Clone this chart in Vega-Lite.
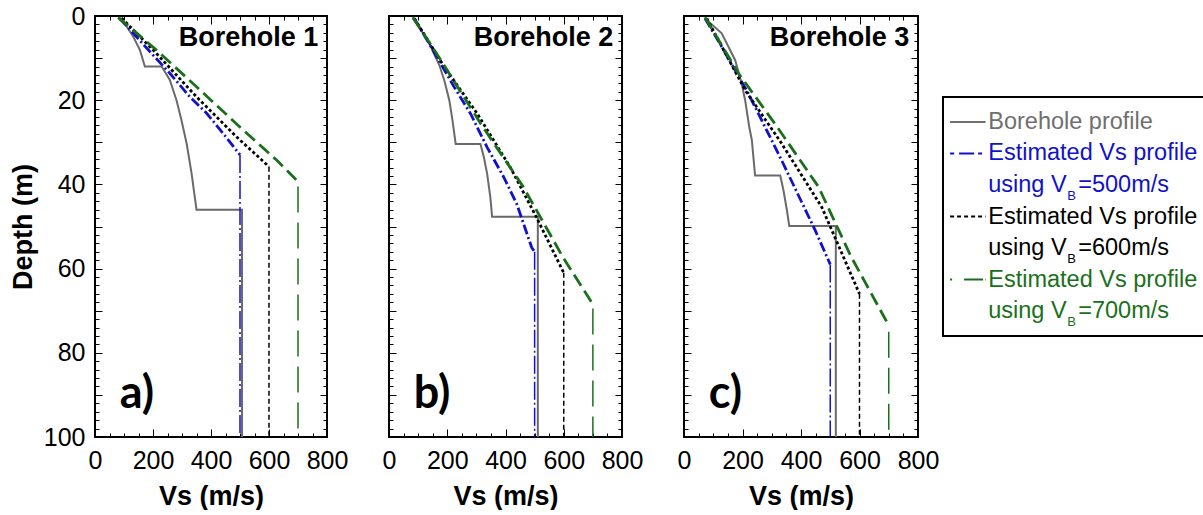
{
 "$schema": "https://vega.github.io/schema/vega-lite/v6.json",
 "padding": {"left": 8, "top": 3, "right": 0, "bottom": 0},
 "background": "white",
 "config": {
  "view": {"stroke": "#000000", "strokeWidth": 2},
  "axis": {"domain": false, "grid": false, "ticks": true, "tickColor": "#000000", "tickOpacity": 1, "tickWidth": 1, "labelFont": "Liberation Sans", "labelFontSize": 25, "labelColor": "#000000", "titleFont": "Liberation Sans", "titleFontSize": 27, "titleFontWeight": "bold", "titleColor": "#000000", "labelFlush": false, "labelOverlap": false},
  "text": {"font": "Liberation Sans"}
 },
 "datasets": {
  "profiles": [
   {"bh":1,"series":"Borehole profile","part":"main","vs":80,"depth":0.5},
   {"bh":1,"series":"Borehole profile","part":"main","vs":109,"depth":2.5},
   {"bh":1,"series":"Borehole profile","part":"main","vs":132,"depth":4.9},
   {"bh":1,"series":"Borehole profile","part":"main","vs":155,"depth":8.1},
   {"bh":1,"series":"Borehole profile","part":"main","vs":172,"depth":12},
   {"bh":1,"series":"Borehole profile","part":"main","vs":230,"depth":12},
   {"bh":1,"series":"Borehole profile","part":"main","vs":258,"depth":15.2},
   {"bh":1,"series":"Borehole profile","part":"main","vs":281,"depth":20},
   {"bh":1,"series":"Borehole profile","part":"main","vs":298,"depth":24.7},
   {"bh":1,"series":"Borehole profile","part":"main","vs":316,"depth":30.3},
   {"bh":1,"series":"Borehole profile","part":"main","vs":333,"depth":37.4},
   {"bh":1,"series":"Borehole profile","part":"main","vs":350,"depth":46},
   {"bh":1,"series":"Borehole profile","part":"main","vs":507,"depth":46},
   {"bh":1,"series":"Borehole profile","part":"main","vs":507,"depth":100},
   {"bh":1,"series":"VB=500","part":"gradient","vs":86,"depth":0.5},
   {"bh":1,"series":"VB=500","part":"gradient","vs":132,"depth":4.1},
   {"bh":1,"series":"VB=500","part":"gradient","vs":195,"depth":8.9},
   {"bh":1,"series":"VB=500","part":"gradient","vs":258,"depth":13.6},
   {"bh":1,"series":"VB=500","part":"gradient","vs":327,"depth":19.2},
   {"bh":1,"series":"VB=500","part":"gradient","vs":385,"depth":23.1},
   {"bh":1,"series":"VB=500","part":"gradient","vs":442,"depth":27.9},
   {"bh":1,"series":"VB=500","part":"gradient","vs":500,"depth":33},
   {"bh":1,"series":"VB=500","part":"base","vs":500,"depth":33},
   {"bh":1,"series":"VB=500","part":"base","vs":500,"depth":100},
   {"bh":1,"series":"VB=600","part":"gradient","vs":92,"depth":0.5},
   {"bh":1,"series":"VB=600","part":"gradient","vs":212,"depth":8.9},
   {"bh":1,"series":"VB=600","part":"gradient","vs":350,"depth":19.2},
   {"bh":1,"series":"VB=600","part":"gradient","vs":488,"depth":28.7},
   {"bh":1,"series":"VB=600","part":"gradient","vs":600,"depth":35.8},
   {"bh":1,"series":"VB=600","part":"base","vs":600,"depth":35.8},
   {"bh":1,"series":"VB=600","part":"base","vs":600,"depth":100},
   {"bh":1,"series":"VB=700","part":"gradient","vs":80,"depth":0.3},
   {"bh":1,"series":"VB=700","part":"gradient","vs":212,"depth":8.1},
   {"bh":1,"series":"VB=700","part":"gradient","vs":350,"depth":16.8},
   {"bh":1,"series":"VB=700","part":"gradient","vs":511,"depth":27.1},
   {"bh":1,"series":"VB=700","part":"gradient","vs":626,"depth":34.2},
   {"bh":1,"series":"VB=700","part":"gradient","vs":700,"depth":39.3},
   {"bh":1,"series":"VB=700","part":"base","vs":700,"depth":40.5},
   {"bh":1,"series":"VB=700","part":"base","vs":700,"depth":100},

   {"bh":2,"series":"Borehole profile","part":"main","vs":82,"depth":0.6},
   {"bh":2,"series":"Borehole profile","part":"main","vs":133,"depth":5.7},
   {"bh":2,"series":"Borehole profile","part":"main","vs":173,"depth":11.7},
   {"bh":2,"series":"Borehole profile","part":"main","vs":190,"depth":15.3},
   {"bh":2,"series":"Borehole profile","part":"main","vs":207,"depth":20},
   {"bh":2,"series":"Borehole profile","part":"main","vs":218,"depth":24.8},
   {"bh":2,"series":"Borehole profile","part":"main","vs":229,"depth":30.4},
   {"bh":2,"series":"Borehole profile","part":"main","vs":314,"depth":30.4},
   {"bh":2,"series":"Borehole profile","part":"main","vs":326,"depth":33.6},
   {"bh":2,"series":"Borehole profile","part":"main","vs":337,"depth":37.5},
   {"bh":2,"series":"Borehole profile","part":"main","vs":348,"depth":43.1},
   {"bh":2,"series":"Borehole profile","part":"main","vs":354,"depth":47.7},
   {"bh":2,"series":"Borehole profile","part":"main","vs":511,"depth":47.7},
   {"bh":2,"series":"Borehole profile","part":"main","vs":511,"depth":100},
   {"bh":2,"series":"VB=500","part":"gradient","vs":87,"depth":0.6},
   {"bh":2,"series":"VB=500","part":"gradient","vs":144,"depth":7.3},
   {"bh":2,"series":"VB=500","part":"gradient","vs":224,"depth":16.9},
   {"bh":2,"series":"VB=500","part":"gradient","vs":280,"depth":23.2},
   {"bh":2,"series":"VB=500","part":"gradient","vs":337,"depth":31.2},
   {"bh":2,"series":"VB=500","part":"gradient","vs":394,"depth":38.3},
   {"bh":2,"series":"VB=500","part":"gradient","vs":439,"depth":44.7},
   {"bh":2,"series":"VB=500","part":"gradient","vs":490,"depth":55},
   {"bh":2,"series":"VB=500","part":"gradient","vs":500,"depth":56},
   {"bh":2,"series":"VB=500","part":"base","vs":500,"depth":56},
   {"bh":2,"series":"VB=500","part":"base","vs":500,"depth":100},
   {"bh":2,"series":"VB=600","part":"gradient","vs":87,"depth":0.6},
   {"bh":2,"series":"VB=600","part":"gradient","vs":190,"depth":12.1},
   {"bh":2,"series":"VB=600","part":"gradient","vs":303,"depth":23.2},
   {"bh":2,"series":"VB=600","part":"gradient","vs":417,"depth":36},
   {"bh":2,"series":"VB=600","part":"gradient","vs":507,"depth":47.9},
   {"bh":2,"series":"VB=600","part":"gradient","vs":600,"depth":61},
   {"bh":2,"series":"VB=600","part":"base","vs":600,"depth":61},
   {"bh":2,"series":"VB=600","part":"base","vs":600,"depth":100},
   {"bh":2,"series":"VB=700","part":"gradient","vs":82,"depth":0.3},
   {"bh":2,"series":"VB=700","part":"gradient","vs":178,"depth":10.5},
   {"bh":2,"series":"VB=700","part":"gradient","vs":315,"depth":25.6},
   {"bh":2,"series":"VB=700","part":"gradient","vs":462,"depth":40.7},
   {"bh":2,"series":"VB=700","part":"gradient","vs":598,"depth":57.4},
   {"bh":2,"series":"VB=700","part":"gradient","vs":700,"depth":68.5},
   {"bh":2,"series":"VB=700","part":"base","vs":700,"depth":69.5},
   {"bh":2,"series":"VB=700","part":"base","vs":700,"depth":100},

   {"bh":3,"series":"Borehole profile","part":"main","vs":72,"depth":0.6},
   {"bh":3,"series":"Borehole profile","part":"main","vs":129,"depth":4.1},
   {"bh":3,"series":"Borehole profile","part":"main","vs":175,"depth":10.5},
   {"bh":3,"series":"Borehole profile","part":"main","vs":197,"depth":16},
   {"bh":3,"series":"Borehole profile","part":"main","vs":209,"depth":20},
   {"bh":3,"series":"Borehole profile","part":"main","vs":223,"depth":26.3},
   {"bh":3,"series":"Borehole profile","part":"main","vs":232,"depth":29.5},
   {"bh":3,"series":"Borehole profile","part":"main","vs":243,"depth":37.9},
   {"bh":3,"series":"Borehole profile","part":"main","vs":329,"depth":37.9},
   {"bh":3,"series":"Borehole profile","part":"main","vs":340,"depth":41.4},
   {"bh":3,"series":"Borehole profile","part":"main","vs":352,"depth":46.2},
   {"bh":3,"series":"Borehole profile","part":"main","vs":360,"depth":49.9},
   {"bh":3,"series":"Borehole profile","part":"main","vs":519,"depth":49.9},
   {"bh":3,"series":"Borehole profile","part":"main","vs":519,"depth":100},
   {"bh":3,"series":"VB=500","part":"gradient","vs":72,"depth":0.6},
   {"bh":3,"series":"VB=500","part":"gradient","vs":129,"depth":7.3},
   {"bh":3,"series":"VB=500","part":"gradient","vs":220,"depth":18.4},
   {"bh":3,"series":"VB=500","part":"gradient","vs":334,"depth":34.3},
   {"bh":3,"series":"VB=500","part":"gradient","vs":449,"depth":51},
   {"bh":3,"series":"VB=500","part":"gradient","vs":500,"depth":59},
   {"bh":3,"series":"VB=500","part":"base","vs":500,"depth":59},
   {"bh":3,"series":"VB=500","part":"base","vs":500,"depth":100},
   {"bh":3,"series":"VB=600","part":"gradient","vs":78,"depth":0.6},
   {"bh":3,"series":"VB=600","part":"gradient","vs":209,"depth":17.6},
   {"bh":3,"series":"VB=600","part":"gradient","vs":334,"depth":30.3},
   {"bh":3,"series":"VB=600","part":"gradient","vs":471,"depth":45.4},
   {"bh":3,"series":"VB=600","part":"gradient","vs":600,"depth":66},
   {"bh":3,"series":"VB=600","part":"base","vs":600,"depth":66},
   {"bh":3,"series":"VB=600","part":"base","vs":600,"depth":100},
   {"bh":3,"series":"VB=700","part":"gradient","vs":72,"depth":0.3},
   {"bh":3,"series":"VB=700","part":"gradient","vs":186,"depth":13.6},
   {"bh":3,"series":"VB=700","part":"gradient","vs":311,"depth":25.6},
   {"bh":3,"series":"VB=700","part":"gradient","vs":460,"depth":40.6},
   {"bh":3,"series":"VB=700","part":"gradient","vs":570,"depth":57},
   {"bh":3,"series":"VB=700","part":"gradient","vs":700,"depth":73.5},
   {"bh":3,"series":"VB=700","part":"base","vs":700,"depth":75},
   {"bh":3,"series":"VB=700","part":"base","vs":700,"depth":100}
  ],
  "panels": [
   {"bh":1,"name":"Borehole 1","tag":"a)"},
   {"bh":2,"name":"Borehole 2","tag":"b)"},
   {"bh":3,"name":"Borehole 3","tag":"c)"}
  ],
  "legendEntries": [
   {"key":"Borehole profile","line":1,"text":"Borehole profile"},
   {"key":"VB=500","line":2,"text":"Estimated Vs profile"},
   {"key":"VB=600","line":4,"text":"Estimated Vs profile"},
   {"key":"VB=700","line":6,"text":"Estimated Vs profile"}
  ],
  "legendSub": [
   {"key":"VB=500","line":3,"text":"using V","sub":"B","tail":"=500m/s"},
   {"key":"VB=600","line":5,"text":"using V","sub":"B","tail":"=600m/s"},
   {"key":"VB=700","line":7,"text":"using V","sub":"B","tail":"=700m/s"}
  ]
 },
 "hconcat": [
  {
   "hconcat": [
    {
     "width": 232, "height": 421,
     "layer": [
      {"data": {"name": "profiles"}, "transform": [{"filter": "datum.bh == 1 && datum.series == 'Borehole profile'"}],
       "mark": {"type": "line", "color": "#6a6a6a", "strokeWidth": 2},
       "encoding": {
        "x": {"field": "vs", "type": "quantitative", "scale": {"domain": [0, 800], "nice": false, "zero": false}, "axis": {"orient": "bottom", "values": [0,200,400,600,800], "ticks": false, "labelPadding": 11, "title": "Vs (m/s)", "titlePadding": 10}},
        "y": {"field": "depth", "type": "quantitative", "scale": {"domain": [0, 100], "nice": false, "reverse": true}, "axis": {"orient": "left", "values": [0,20,40,60,80,100], "ticks": false, "labelPadding": 10, "title": "Depth (m)", "titlePadding": 6}},
        "order": {"value": null}
       }},
      {"data": {"name": "profiles"}, "transform": [{"filter": "datum.bh == 1 && datum.part == 'gradient'"}],
       "mark": {"type": "line", "strokeWidth": 2.8},
       "encoding": {
        "x": {"field": "vs", "type": "quantitative", "axis": {"orient": "bottom", "values": [0,200,400,600,800], "labels": false, "tickSize": 8, "offset": -8, "title": null}},
        "y": {"field": "depth", "type": "quantitative", "axis": {"orient": "left", "values": [0,10,20,30,40,50,60,70,80,90,100], "labels": false, "tickSize": 7, "offset": -7, "title": null}},
        "color": {"field": "series", "type": "nominal", "scale": {"domain": ["Borehole profile","VB=500","VB=600","VB=700"], "range": ["#6a6a6a","#1111cc","#000000","#1a701a"]}, "legend": null},
        "strokeDash": {"field": "series", "type": "nominal", "scale": {"domain": ["VB=500","VB=600","VB=700"], "range": [[10,3,2,3],[3,2.5],[13,6]]}, "legend": null},
        "order": {"value": null}
       }},
      {"data": {"name": "profiles"}, "transform": [{"filter": "datum.bh == 1 && datum.part == 'base'"}],
       "mark": {"type": "line", "strokeWidth": 1.5},
       "encoding": {
        "x": {"field": "vs", "type": "quantitative", "axis": {"orient": "bottom", "values": [0,50,100,150,200,250,300,350,400,450,500,550,600,650,700,750,800], "labels": false, "tickSize": 4, "offset": -4, "title": null}},
        "y": {"field": "depth", "type": "quantitative", "axis": {"orient": "left", "values": [0,2,4,6,8,10,12,14,16,18,20,22,24,26,28,30,32,34,36,38,40,42,44,46,48,50,52,54,56,58,60,62,64,66,68,70,72,74,76,78,80,82,84,86,88,90,92,94,96,98,100], "labels": false, "tickSize": 4, "offset": -4, "title": null}},
        "color": {"field": "series", "type": "nominal", "legend": null},
        "strokeDash": {"field": "series", "type": "nominal", "scale": {"domain": ["VB=500","VB=600","VB=700"], "range": [[18,3,2,3],[5,3],[26,10]]}, "legend": null},
        "order": {"value": null}
       }},
      {"data": {"name": "panels"}, "transform": [{"filter": "datum.bh == 1"}],
       "mark": {"type": "text", "align": "right", "baseline": "alphabetic", "fontSize": 27, "fontWeight": "bold", "font": "Liberation Sans", "color": "#000000"},
       "encoding": {
        "text": {"field": "name"},
        "x": {"datum": 770, "type": "quantitative", "axis": {"orient": "top", "values": [0,200,400,600,800], "labels": false, "tickSize": 8, "offset": -8, "title": null}},
        "y": {"datum": 7.2, "type": "quantitative", "axis": {"orient": "right", "values": [0,10,20,30,40,50,60,70,80,90,100], "labels": false, "tickSize": 7, "offset": -7, "title": null}}
       }},
      {"data": {"name": "panels"}, "transform": [{"filter": "datum.bh == 1"}],
       "mark": {"type": "text", "align": "left", "baseline": "alphabetic", "fontSize": 45, "fontWeight": "bold", "font": "Lato", "color": "#000000"},
       "encoding": {
        "text": {"field": "tag"},
        "x": {"datum": 85, "type": "quantitative", "axis": {"orient": "top", "values": [0,50,100,150,200,250,300,350,400,450,500,550,600,650,700,750,800], "labels": false, "tickSize": 4, "offset": -4, "title": null}},
        "y": {"datum": 93, "type": "quantitative", "axis": {"orient": "right", "values": [0,2,4,6,8,10,12,14,16,18,20,22,24,26,28,30,32,34,36,38,40,42,44,46,48,50,52,54,56,58,60,62,64,66,68,70,72,74,76,78,80,82,84,86,88,90,92,94,96,98,100], "labels": false, "tickSize": 4, "offset": -4, "title": null}}
       }}
     ],
     "resolve": {"axis": {"x": "independent", "y": "independent"}, "scale": {"strokeDash": "independent"}}
    },
    {
     "width": 233, "height": 421,
     "layer": [
      {"data": {"name": "profiles"}, "transform": [{"filter": "datum.bh == 2 && datum.series == 'Borehole profile'"}],
       "mark": {"type": "line", "color": "#6a6a6a", "strokeWidth": 2},
       "encoding": {
        "x": {"field": "vs", "type": "quantitative", "scale": {"domain": [0, 800], "nice": false, "zero": false}, "axis": {"orient": "bottom", "values": [0,200,400,600,800], "ticks": false, "labelPadding": 11, "title": "Vs (m/s)", "titlePadding": 10}},
        "y": {"field": "depth", "type": "quantitative", "scale": {"domain": [0, 100], "nice": false, "reverse": true}, "axis": null},
        "order": {"value": null}
       }},
      {"data": {"name": "profiles"}, "transform": [{"filter": "datum.bh == 2 && datum.part == 'gradient'"}],
       "mark": {"type": "line", "strokeWidth": 2.8},
       "encoding": {
        "x": {"field": "vs", "type": "quantitative", "axis": {"orient": "bottom", "values": [0,200,400,600,800], "labels": false, "tickSize": 8, "offset": -8, "title": null}},
        "y": {"field": "depth", "type": "quantitative", "axis": {"orient": "left", "values": [0,10,20,30,40,50,60,70,80,90,100], "labels": false, "tickSize": 7, "offset": -7, "title": null}},
        "color": {"field": "series", "type": "nominal", "scale": {"domain": ["Borehole profile","VB=500","VB=600","VB=700"], "range": ["#6a6a6a","#1111cc","#000000","#1a701a"]}, "legend": null},
        "strokeDash": {"field": "series", "type": "nominal", "scale": {"domain": ["VB=500","VB=600","VB=700"], "range": [[10,3,2,3],[3,2.5],[13,6]]}, "legend": null},
        "order": {"value": null}
       }},
      {"data": {"name": "profiles"}, "transform": [{"filter": "datum.bh == 2 && datum.part == 'base'"}],
       "mark": {"type": "line", "strokeWidth": 1.5},
       "encoding": {
        "x": {"field": "vs", "type": "quantitative", "axis": {"orient": "bottom", "values": [0,50,100,150,200,250,300,350,400,450,500,550,600,650,700,750,800], "labels": false, "tickSize": 4, "offset": -4, "title": null}},
        "y": {"field": "depth", "type": "quantitative", "axis": {"orient": "left", "values": [0,2,4,6,8,10,12,14,16,18,20,22,24,26,28,30,32,34,36,38,40,42,44,46,48,50,52,54,56,58,60,62,64,66,68,70,72,74,76,78,80,82,84,86,88,90,92,94,96,98,100], "labels": false, "tickSize": 4, "offset": -4, "title": null}},
        "color": {"field": "series", "type": "nominal", "legend": null},
        "strokeDash": {"field": "series", "type": "nominal", "scale": {"domain": ["VB=500","VB=600","VB=700"], "range": [[18,3,2,3],[5,3],[26,10]]}, "legend": null},
        "order": {"value": null}
       }},
      {"data": {"name": "panels"}, "transform": [{"filter": "datum.bh == 2"}],
       "mark": {"type": "text", "align": "right", "baseline": "alphabetic", "fontSize": 27, "fontWeight": "bold", "font": "Liberation Sans", "color": "#000000"},
       "encoding": {
        "text": {"field": "name"},
        "x": {"datum": 770, "type": "quantitative", "axis": {"orient": "top", "values": [0,200,400,600,800], "labels": false, "tickSize": 8, "offset": -8, "title": null}},
        "y": {"datum": 7.2, "type": "quantitative", "axis": {"orient": "right", "values": [0,10,20,30,40,50,60,70,80,90,100], "labels": false, "tickSize": 7, "offset": -7, "title": null}}
       }},
      {"data": {"name": "panels"}, "transform": [{"filter": "datum.bh == 2"}],
       "mark": {"type": "text", "align": "left", "baseline": "alphabetic", "fontSize": 45, "fontWeight": "bold", "font": "Lato", "color": "#000000"},
       "encoding": {
        "text": {"field": "tag"},
        "x": {"datum": 85, "type": "quantitative", "axis": {"orient": "top", "values": [0,50,100,150,200,250,300,350,400,450,500,550,600,650,700,750,800], "labels": false, "tickSize": 4, "offset": -4, "title": null}},
        "y": {"datum": 93, "type": "quantitative", "axis": {"orient": "right", "values": [0,2,4,6,8,10,12,14,16,18,20,22,24,26,28,30,32,34,36,38,40,42,44,46,48,50,52,54,56,58,60,62,64,66,68,70,72,74,76,78,80,82,84,86,88,90,92,94,96,98,100], "labels": false, "tickSize": 4, "offset": -4, "title": null}}
       }}
     ],
     "resolve": {"axis": {"x": "independent", "y": "independent"}, "scale": {"strokeDash": "independent"}}
    },
    {
     "width": 234, "height": 421,
     "layer": [
      {"data": {"name": "profiles"}, "transform": [{"filter": "datum.bh == 3 && datum.series == 'Borehole profile'"}],
       "mark": {"type": "line", "color": "#6a6a6a", "strokeWidth": 2},
       "encoding": {
        "x": {"field": "vs", "type": "quantitative", "scale": {"domain": [0, 800], "nice": false, "zero": false}, "axis": {"orient": "bottom", "values": [0,200,400,600,800], "ticks": false, "labelPadding": 11, "title": "Vs (m/s)", "titlePadding": 10}},
        "y": {"field": "depth", "type": "quantitative", "scale": {"domain": [0, 100], "nice": false, "reverse": true}, "axis": null},
        "order": {"value": null}
       }},
      {"data": {"name": "profiles"}, "transform": [{"filter": "datum.bh == 3 && datum.part == 'gradient'"}],
       "mark": {"type": "line", "strokeWidth": 2.8},
       "encoding": {
        "x": {"field": "vs", "type": "quantitative", "axis": {"orient": "bottom", "values": [0,200,400,600,800], "labels": false, "tickSize": 8, "offset": -8, "title": null}},
        "y": {"field": "depth", "type": "quantitative", "axis": {"orient": "left", "values": [0,10,20,30,40,50,60,70,80,90,100], "labels": false, "tickSize": 7, "offset": -7, "title": null}},
        "color": {"field": "series", "type": "nominal", "scale": {"domain": ["Borehole profile","VB=500","VB=600","VB=700"], "range": ["#6a6a6a","#1111cc","#000000","#1a701a"]}, "legend": null},
        "strokeDash": {"field": "series", "type": "nominal", "scale": {"domain": ["VB=500","VB=600","VB=700"], "range": [[10,3,2,3],[3,2.5],[13,6]]}, "legend": null},
        "order": {"value": null}
       }},
      {"data": {"name": "profiles"}, "transform": [{"filter": "datum.bh == 3 && datum.part == 'base'"}],
       "mark": {"type": "line", "strokeWidth": 1.5},
       "encoding": {
        "x": {"field": "vs", "type": "quantitative", "axis": {"orient": "bottom", "values": [0,50,100,150,200,250,300,350,400,450,500,550,600,650,700,750,800], "labels": false, "tickSize": 4, "offset": -4, "title": null}},
        "y": {"field": "depth", "type": "quantitative", "axis": {"orient": "left", "values": [0,2,4,6,8,10,12,14,16,18,20,22,24,26,28,30,32,34,36,38,40,42,44,46,48,50,52,54,56,58,60,62,64,66,68,70,72,74,76,78,80,82,84,86,88,90,92,94,96,98,100], "labels": false, "tickSize": 4, "offset": -4, "title": null}},
        "color": {"field": "series", "type": "nominal", "legend": null},
        "strokeDash": {"field": "series", "type": "nominal", "scale": {"domain": ["VB=500","VB=600","VB=700"], "range": [[18,3,2,3],[5,3],[26,10]]}, "legend": null},
        "order": {"value": null}
       }},
      {"data": {"name": "panels"}, "transform": [{"filter": "datum.bh == 3"}],
       "mark": {"type": "text", "align": "right", "baseline": "alphabetic", "fontSize": 27, "fontWeight": "bold", "font": "Liberation Sans", "color": "#000000"},
       "encoding": {
        "text": {"field": "name"},
        "x": {"datum": 770, "type": "quantitative", "axis": {"orient": "top", "values": [0,200,400,600,800], "labels": false, "tickSize": 8, "offset": -8, "title": null}},
        "y": {"datum": 7.2, "type": "quantitative", "axis": {"orient": "right", "values": [0,10,20,30,40,50,60,70,80,90,100], "labels": false, "tickSize": 7, "offset": -7, "title": null}}
       }},
      {"data": {"name": "panels"}, "transform": [{"filter": "datum.bh == 3"}],
       "mark": {"type": "text", "align": "left", "baseline": "alphabetic", "fontSize": 45, "fontWeight": "bold", "font": "Lato", "color": "#000000"},
       "encoding": {
        "text": {"field": "tag"},
        "x": {"datum": 85, "type": "quantitative", "axis": {"orient": "top", "values": [0,50,100,150,200,250,300,350,400,450,500,550,600,650,700,750,800], "labels": false, "tickSize": 4, "offset": -4, "title": null}},
        "y": {"datum": 93, "type": "quantitative", "axis": {"orient": "right", "values": [0,2,4,6,8,10,12,14,16,18,20,22,24,26,28,30,32,34,36,38,40,42,44,46,48,50,52,54,56,58,60,62,64,66,68,70,72,74,76,78,80,82,84,86,88,90,92,94,96,98,100], "labels": false, "tickSize": 4, "offset": -4, "title": null}}
       }}
     ],
     "resolve": {"axis": {"x": "independent", "y": "independent"}, "scale": {"strokeDash": "independent"}}
    }
   ],
   "spacing": 62,
   "bounds": "flush",
   "resolve": {"scale": {"color": "independent", "strokeDash": "independent"}}
  },
  {
   "vconcat": [
    {"width": 263, "height": 81, "data": {"values": []}, "mark": "point", "encoding": {}, "view": {"stroke": "transparent"}},
    {
     "width": 263, "height": 239,
     "layer": [
      {"data": {"name": "legendEntries"},
       "mark": {"type": "rule", "strokeWidth": 2},
       "encoding": {
        "x": {"datum": 0.027, "type": "quantitative", "scale": {"domain": [0, 1], "nice": false, "zero": false}, "axis": null},
        "x2": {"datum": 0.162},
        "y": {"field": "line", "type": "ordinal", "scale": {"type": "point", "domain": [1,2,3,4,5,6,7], "padding": 0.79}, "axis": null},
        "color": {"field": "key", "type": "nominal", "scale": {"domain": ["Borehole profile","VB=500","VB=600","VB=700"], "range": ["#6f6f6f","#1111cc","#000000","#1a701a"]}, "legend": null},
        "strokeDash": {"field": "key", "type": "nominal", "scale": {"domain": ["Borehole profile","VB=500","VB=600","VB=700"], "range": [[1,0],[4,5,15,4],[4,3],[2,12,19,2]]}, "legend": null}
       }},
      {"data": {"name": "legendEntries"},
       "mark": {"type": "text", "align": "left", "baseline": "middle", "fontSize": 23.5, "font": "Liberation Sans"},
       "encoding": {
        "x": {"datum": 0.172, "type": "quantitative"},
        "y": {"field": "line", "type": "ordinal"},
        "color": {"field": "key", "type": "nominal", "legend": null},
        "text": {"field": "text"}
       }},
      {"data": {"name": "legendSub"},
       "mark": {"type": "text", "align": "left", "baseline": "middle", "fontSize": 23.5, "font": "Liberation Sans"},
       "encoding": {
        "x": {"datum": 0.172, "type": "quantitative"},
        "y": {"field": "line", "type": "ordinal"},
        "color": {"field": "key", "type": "nominal", "legend": null},
        "text": {"field": "text"}
       }},
      {"data": {"name": "legendSub"},
       "mark": {"type": "text", "align": "left", "baseline": "middle", "fontSize": 13, "font": "Liberation Sans", "dx": 79, "dy": 11},
       "encoding": {
        "x": {"datum": 0.172, "type": "quantitative"},
        "y": {"field": "line", "type": "ordinal"},
        "color": {"field": "key", "type": "nominal", "legend": null},
        "text": {"field": "sub"}
       }},
      {"data": {"name": "legendSub"},
       "mark": {"type": "text", "align": "left", "baseline": "middle", "fontSize": 23.5, "font": "Liberation Sans", "dx": 90},
       "encoding": {
        "x": {"datum": 0.172, "type": "quantitative"},
        "y": {"field": "line", "type": "ordinal"},
        "color": {"field": "key", "type": "nominal", "legend": null},
        "text": {"field": "tail"}
       }}
     ]
    }
   ],
   "spacing": 0,
   "bounds": "flush"
  }
 ],
 "spacing": 2,
 "bounds": "full",
 "resolve": {"scale": {"color": "independent", "strokeDash": "independent"}}
}
